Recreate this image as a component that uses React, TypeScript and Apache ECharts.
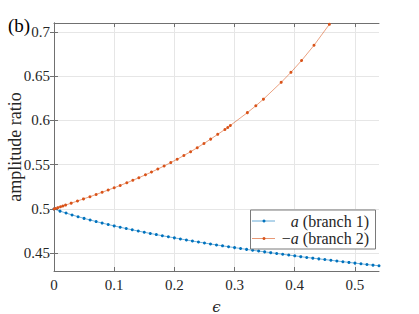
import React, { useEffect, useRef } from "react";
import * as echarts from "echarts";

// ---- data ----
const eps1 = [
  0, 0.01, 0.02, 0.03, 0.04, 0.05, 0.06, 0.07, 0.08, 0.09,
  0.1, 0.11, 0.12, 0.13, 0.14, 0.15, 0.16, 0.17, 0.18, 0.19,
  0.2, 0.21, 0.22, 0.23, 0.24, 0.25, 0.26, 0.27, 0.28, 0.29,
  0.3, 0.31, 0.32, 0.33, 0.34, 0.35, 0.36, 0.37, 0.38, 0.39,
  0.4, 0.41, 0.42, 0.43, 0.44, 0.45, 0.46, 0.47, 0.48, 0.49,
  0.5, 0.51, 0.52, 0.53, 0.54,
];
const amp1 = [
  0.5, 0.4976, 0.4954, 0.4933, 0.4913, 0.4894, 0.4876, 0.4858, 0.4841, 0.4825,
  0.4809, 0.4794, 0.4779, 0.4765, 0.4751, 0.4737, 0.4724, 0.4711, 0.4698, 0.4686,
  0.4674, 0.4662, 0.465, 0.4638, 0.4627, 0.4616, 0.4605, 0.4594, 0.4584, 0.4574,
  0.4564, 0.4554, 0.4544, 0.4534, 0.4525, 0.4516, 0.4507, 0.4498, 0.4489, 0.448,
  0.4471, 0.4462, 0.4453, 0.4445, 0.4437, 0.4429, 0.4421, 0.4413, 0.4405, 0.4397,
  0.4389, 0.4381, 0.4373, 0.4366, 0.4359,
];
const eps2 = [
  0, 0.0025, 0.0064, 0.0108, 0.0147, 0.0192, 0.0286, 0.039, 0.049, 0.0597,
  0.07, 0.08, 0.09, 0.1, 0.11, 0.121, 0.131, 0.141, 0.152, 0.162,
  0.1725, 0.183, 0.194, 0.2047, 0.2158, 0.227, 0.238, 0.2492, 0.2603, 0.272,
  0.284, 0.2887, 0.293, 0.3213, 0.3353, 0.348, 0.3775, 0.3937, 0.4113, 0.432,
  0.4575,
];
const amp2 = [
  0.5, 0.5006, 0.5015, 0.5025, 0.5034, 0.5044, 0.5066, 0.509, 0.5114, 0.5139,
  0.5164, 0.5189, 0.5214, 0.524, 0.5266, 0.5296, 0.5324, 0.5353, 0.5386, 0.5417,
  0.5451, 0.5486, 0.5524, 0.5562, 0.5604, 0.5647, 0.5692, 0.574, 0.5789, 0.5843,
  0.5898, 0.5921, 0.5943, 0.6088, 0.6165, 0.624, 0.643, 0.6543, 0.6676, 0.6848,
  0.7085,
];
const xTicks = [0, 0.1, 0.2, 0.3, 0.4, 0.5];
const yTicks = [0.45, 0.5, 0.55, 0.6, 0.65, 0.7];
const seriesNames = ["a (branch 1)", "\u2212a (branch 2)"];
const panelLabel = "(b)";
const xName = "\u03F5";
const yName = "amplitude ratio";

const BLUE = "#0072BD";
const ORANGE = "#D95319";
const AXIS = "#707070";
const TEXT = "#262626";
const FAMILY = "Liberation Serif";

export default function App() {
  const ref = useRef<HTMLDivElement>(null);
  useEffect(() => {
    if (!ref.current) return;
    const chart = echarts.init(ref.current, undefined, { renderer: "svg" });
    const s1 = eps1.map((x, i) => [x, amp1[i]]);
    const s2 = eps2.map((x, i) => [x, amp2[i]]);
    const axisLine = { show: true, lineStyle: { color: AXIS, width: 1 } };
    const xTick = { show: true, inside: true, length: 4, lineStyle: { color: AXIS }, customValues: xTicks };
    const yTick = { show: true, inside: true, length: 4, lineStyle: { color: AXIS }, customValues: yTicks };

    const legendX = 250;
    const legendY = 209.5;
    const legendW = 125;
    const legendH = 39;
    const row1 = 221;
    const row2 = 238.5;
    const richStyle = {
      i: { font: `italic 16px ${FAMILY}`, fill: TEXT },
      n: { font: `16px ${FAMILY}`, fill: TEXT },
    };

    chart.setOption({
      animation: false,
      backgroundColor: "#ffffff",
      textStyle: { fontFamily: FAMILY },
      grid: {
        left: 54,
        right: 40,
        top: 23,
        bottom: 43,
        containLabel: false,
        outerBoundsMode: "none",
      },
      xAxis: [
        {
          type: "value",
          min: 0,
          max: 0.54,
          axisLine,
          axisTick: xTick,
          axisLabel: {
            customValues: xTicks,
            color: TEXT,
            fontFamily: FAMILY,
            fontSize: 15,
            margin: 6,
          },
          splitLine: { show: true, lineStyle: { color: "#e6e6e6", width: 1 } },
          name: xName,
          nameLocation: "middle",
          nameGap: 28,
          nameMoveOverlap: false,
          nameTextStyle: { color: TEXT, fontFamily: "DejaVu Serif", fontSize: 15, fontStyle: "italic" },
        },
        {
          type: "value",
          position: "top",
          min: 0,
          max: 0.54,
          axisLine,
          axisTick: xTick,
          axisLabel: { show: false, customValues: xTicks },
          splitLine: { show: false },
        },
      ],
      yAxis: [
        {
          type: "value",
          min: 0.43,
          max: 0.71,
          axisLine,
          axisTick: yTick,
          axisLabel: {
            customValues: yTicks,
            color: TEXT,
            fontFamily: FAMILY,
            fontSize: 15,
            margin: 4,
          },
          splitLine: { show: true, lineStyle: { color: "#e6e6e6", width: 1 } },
          name: yName,
          nameLocation: "middle",
          nameGap: 30,
          nameMoveOverlap: false,
          nameTextStyle: { color: TEXT, fontFamily: FAMILY, fontSize: 18 },
        },
        {
          type: "value",
          position: "right",
          min: 0.43,
          max: 0.71,
          axisLine,
          axisTick: yTick,
          axisLabel: { show: false, customValues: yTicks },
          splitLine: { show: false },
        },
      ],
      series: [
        {
          name: seriesNames[0],
          type: "line",
          data: s1,
          symbol: "circle",
          symbolSize: 3,
          showSymbol: true,
          itemStyle: { color: BLUE },
          lineStyle: { color: BLUE, width: 1, opacity: 0.55 },
          z: 3,
        },
        {
          name: seriesNames[1],
          type: "line",
          data: s2,
          symbol: "circle",
          symbolSize: 3,
          showSymbol: true,
          itemStyle: { color: ORANGE },
          lineStyle: { color: ORANGE, width: 1, opacity: 0.55 },
          z: 3,
        },
      ],
      graphic: [
        {
          type: "text",
          left: 8,
          top: 16,
          style: { text: panelLabel, fill: "#000", font: `19px ${FAMILY}` },
          z: 20,
        },
        {
          type: "group",
          z: 20,
          children: [
            {
              type: "rect",
              shape: { x: legendX + 0.5, y: legendY + 0.5, width: legendW, height: legendH },
              style: { fill: "#ffffff", stroke: "#7a7a7a", lineWidth: 1 },
              z: 20,
            },
            {
              type: "line",
              shape: { x1: legendX + 2, y1: row1, x2: legendX + 25, y2: row1 },
              style: { stroke: BLUE, lineWidth: 1, opacity: 0.6 },
              z: 21,
            },
            {
              type: "circle",
              shape: { cx: legendX + 14, cy: row1, r: 1.5 },
              style: { fill: BLUE },
              z: 22,
            },
            {
              type: "line",
              shape: { x1: legendX + 2, y1: row2, x2: legendX + 25, y2: row2 },
              style: { stroke: ORANGE, lineWidth: 1, opacity: 0.6 },
              z: 21,
            },
            {
              type: "circle",
              shape: { cx: legendX + 14, cy: row2, r: 1.5 },
              style: { fill: ORANGE },
              z: 22,
            },
            {
              type: "text",
              z: 22,
              style: {
                x: legendX + 119,
                y: row1,
                align: "right",
                verticalAlign: "middle",
                text: "{i|a}{n| (branch 1)}",
                rich: richStyle,
              },
            },
            {
              type: "text",
              z: 22,
              style: {
                x: legendX + 119,
                y: row2,
                align: "right",
                verticalAlign: "middle",
                text: "{n|\u2212}{i|a}{n| (branch 2)}",
                rich: richStyle,
              },
            },
          ],
        },
      ],
    });
    return () => chart.dispose();
  }, []);
  return (
    <div
      ref={ref}
      style={{ position: "fixed", left: 0, top: 0, width: 419, height: 314 }}
    />
  );
}
